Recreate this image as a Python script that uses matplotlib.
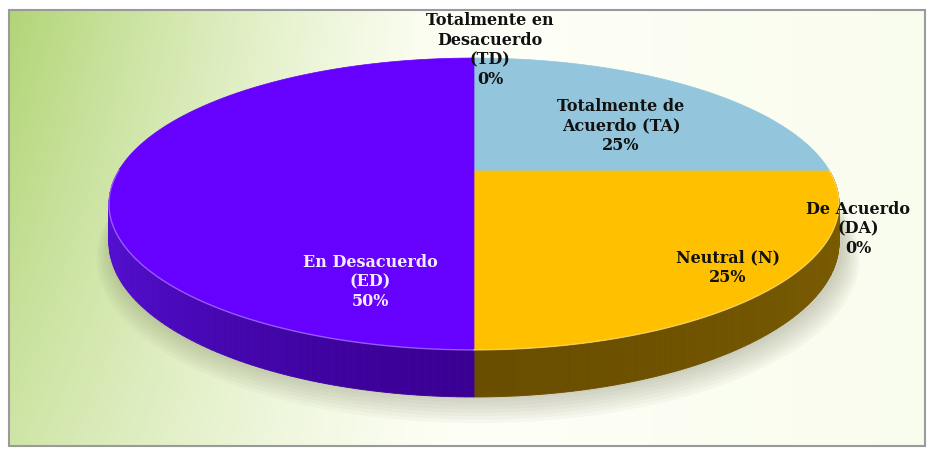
import numpy as np
import matplotlib
matplotlib.use("Agg")
import matplotlib.pyplot as plt
from matplotlib.patches import Polygon, Rectangle
from matplotlib.collections import PolyCollection
from matplotlib.colors import to_rgb

# ── Data ──────────────────────────────────────────────────────────────────────
categories = ["Totalmente de\nAcuerdo (TA)", "De Acuerdo\n(DA)", "Neutral (N)",
              "En Desacuerdo\n(ED)", "Totalmente en\nDesacuerdo\n(TD)"]
percents = [25, 0, 25, 50, 0]

# ── Styles ────────────────────────────────────────────────────────────────────
top_colors   = ["#93C6DC", "#C0504D", "#FFC000", "#6600FF", "#9BBB59"]
side_front   = ["#4A6E7E", "#7A2A28", "#6A4E00", "#3A0094", "#55702E"]
side_edge    = ["#5A7F90", "#8A3432", "#7A5C00", "#5510D6", "#647F36"]
label_colors = ["#111111", "#111111", "#111111", "#F4ECFF", "#111111"]
label_pos    = [(621, 126), (858, 229), (728, 268), (370, 282), (490, 50)]

W, H = 927, 458

# perspective ellipse (pixel space)
CX, CY = 474, 171
A, B, K = 355.6, 138.5, 0.226
DROP = 36.4


def proj(theta_deg, r=1.0, drop=0.0):
    t = np.radians(theta_deg)
    u, v = r * np.cos(t), r * np.sin(t)
    w = 1 + K * v
    return CX + A * u / w, CY - B * v / w + drop / w


fig = plt.figure(figsize=(W / 100, H / 100), dpi=100)
fig.patch.set_facecolor("white")
ax = fig.add_axes([0, 0, 1, 1])
ax.set_xlim(0, W)
ax.set_ylim(H, 0)
ax.axis("off")

# ── Background gradient ───────────────────────────────────────────────────────
x0, x1, y0, y1 = 9, 925, 10, 446
xn, yn = np.meshgrid(np.linspace(0, 1, 400), np.linspace(0, 1, 200))
t = np.clip(1 - xn / 0.5, 0, 1) ** 1.3 * (1 - 0.38 * yn)
t += 0.07 * np.clip((xn - 0.55) / 0.45, 0, 1)
green = np.array(to_rgb("#B2D576"))
cream = np.array([0.995, 1.0, 0.965])
img = cream[None, None, :] * (1 - t[..., None]) + green[None, None, :] * t[..., None]
ax.imshow(img, extent=(x0, x1, y1, y0), aspect="auto", zorder=0, interpolation="bilinear")
ax.add_patch(Rectangle((x0, y0), x1 - x0, y1 - y0, fill=False,
                       edgecolor="#9A9A9A", lw=1.5, zorder=1))

# ── Shadow ────────────────────────────────────────────────────────────────────
circ = np.linspace(0, 360, 361)
for k in range(8):
    sx, sy = proj(circ, r=1.0 + 0.006 * k, drop=DROP + 1.5 * k)
    ax.add_patch(Polygon(np.column_stack([sx + 4, sy + 2]), closed=True,
                         facecolor="#6E6E50", edgecolor="none", alpha=0.045, zorder=2))

# ── Wedge angles (start at 12 o'clock, clockwise) ─────────────────────────────
cum = np.concatenate([[0], np.cumsum(percents)])
theta1 = 90 - 3.6 * cum[:-1]
theta2 = 90 - 3.6 * cum[1:]

# sides
polys, cols = [], []
for i, p in enumerate(percents):
    if p == 0:
        continue
    ts = np.linspace(theta1[i], theta2[i], 180)
    fr, ed = np.array(to_rgb(side_front[i])), np.array(to_rgb(side_edge[i]))
    for a, b in zip(ts[:-1], ts[1:]):
        mid = (a + b) / 2
        if np.sin(np.radians(mid)) > 0.02:
            continue
        xa, ya = proj(a)
        xb, yb = proj(b)
        xc, yc = proj(b, drop=DROP)
        xd, yd = proj(a, drop=DROP)
        polys.append([(xa, ya), (xb, yb), (xc, yc), (xd, yd)])
        f = abs(np.cos(np.radians(mid))) ** 1.5
        cols.append(fr + (ed - fr) * f)
ax.add_collection(PolyCollection(polys, facecolors=cols, edgecolors=cols,
                                 linewidths=0.6, zorder=3))

# tops
for i, p in enumerate(percents):
    if p == 0:
        continue
    ts = np.linspace(theta1[i], theta2[i], 200)
    xs, ys = proj(ts)
    verts = np.vstack([[CX, CY], np.column_stack([xs, ys])])
    ax.add_patch(Polygon(verts, closed=True, facecolor=top_colors[i],
                         edgecolor=top_colors[i], lw=0.5, zorder=4))
    # light bevel along the front rim
    front = np.sin(np.radians(ts)) < 0.02
    if front.any():
        ax.plot(xs[front], ys[front], color="white", lw=1.0, alpha=0.35, zorder=5)

# ── Labels ────────────────────────────────────────────────────────────────────
for i, name in enumerate(categories):
    ax.text(label_pos[i][0], label_pos[i][1], f"{name}\n{percents[i]}%",
            ha="center", va="center", fontsize=11.5, fontweight="bold",
            family="DejaVu Serif", color=label_colors[i], linespacing=1.22,
            zorder=6)

fig.savefig("out.png", dpi=100)
